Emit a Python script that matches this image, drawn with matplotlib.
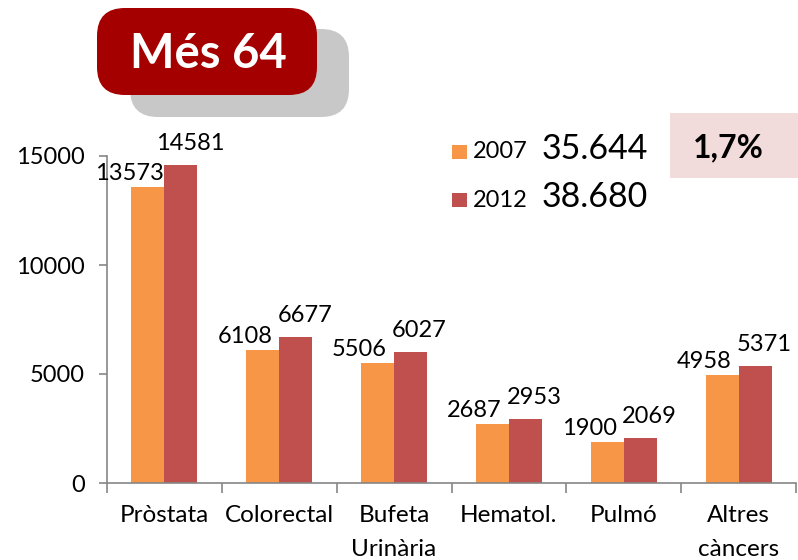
import matplotlib
matplotlib.use('Agg')
import matplotlib.pyplot as plt
import numpy as np
from matplotlib.patches import FancyBboxPatch, Rectangle

plt.rcParams['font.family'] = ['Lato', 'DejaVu Sans']

# Data
categories = ['Pròstata', 'Colorectal', 'Bufeta\nUrinària', 'Hematol.', 'Pulmó', 'Altres\ncàncers']
years = ['2007', '2012']
values_2007 = [13573, 6108, 5506, 2687, 1900, 4958]
values_2012 = [14581, 6677, 6027, 2953, 2069, 5371]
totals = ['35.644', '38.680']
change = '1,7%'
title = 'Més 64'

colors = {'2007': '#F79646', '2012': '#C0504D'}
W, H = 798, 560

fig = plt.figure(figsize=(W / 100, H / 100), dpi=100)


def fx(px):
    return px / W


def fy(py):
    return 1 - py / H


# Main axes (pixel box 107..796 x 156..483)
ax = fig.add_axes([fx(107), fy(483), fx(796) - fx(107), fy(156) - fy(483)])
x = np.arange(len(categories))
bw = 0.288
b1 = ax.bar(x - bw / 2, values_2007, bw, color=colors['2007'], edgecolor='none')
b2 = ax.bar(x + bw / 2, values_2012, bw, color=colors['2012'], edgecolor='none')

for rect, v in zip(b1, values_2007):
    ax.annotate(str(v), (rect.get_x() + rect.get_width() / 2, rect.get_height()),
                xytext=(-18, 3), textcoords='offset pixels', ha='center', va='bottom',
                fontsize=17, color='black')
for rect, v in zip(b2, values_2012):
    ax.annotate(str(v), (rect.get_x() + rect.get_width() / 2, rect.get_height()),
                xytext=(9, 11), textcoords='offset pixels', ha='center', va='bottom',
                fontsize=17, color='black')

ax.set_xlim(-0.5, len(categories) - 0.5)
ax.set_ylim(0, 15000)
ax.set_yticks([0, 5000, 10000, 15000])
ax.set_xticks(x)
ax.set_xticklabels(categories, fontsize=17.5, linespacing=1.75, va='top')
ax.set_xticks(np.arange(len(categories) + 1) - 0.5, minor=True)
ax.tick_params(axis='x', which='major', length=0, pad=16)
ax.tick_params(axis='x', which='minor', length=7, color='#868686', width=1.2)
ax.tick_params(axis='y', length=6, color='#868686', width=1.2, pad=10, labelsize=17)
for s in ['top', 'right']:
    ax.spines[s].set_visible(False)
for s in ['left', 'bottom']:
    ax.spines[s].set_color('#868686')
    ax.spines[s].set_linewidth(1.2)

# Title box with shadow
shadow = FancyBboxPatch((fx(130), fy(117)), fx(349) - fx(130), fy(29) - fy(117),
                        boxstyle='round,pad=0,rounding_size=0.035', transform=fig.transFigure,
                        facecolor='#C8C8C8', edgecolor='none', mutation_aspect=W / H)
fig.add_artist(shadow)
tbox = FancyBboxPatch((fx(97), fy(95)), fx(317) - fx(97), fy(8) - fy(95),
                      boxstyle='round,pad=0,rounding_size=0.035', transform=fig.transFigure,
                      facecolor='#A50000', edgecolor='none', mutation_aspect=W / H)
fig.add_artist(tbox)
fig.text(fx(208), fy(54), title, ha='center', va='center', fontsize=34,
         fontweight='bold', color='white')

# Legend with totals
for i, yr in enumerate(years):
    yc = 152 + i * 48
    fig.add_artist(Rectangle((fx(452), fy(yc + 7)), fx(15), 14 / H,
                             transform=fig.transFigure, facecolor=colors[yr], edgecolor='none'))
    fig.text(fx(473), fy(yc), yr, ha='left', va='center', fontsize=17)
    fig.text(fx(542), fy(yc - 3), totals[i], ha='left', va='center', fontsize=24.5)

# Change box
fig.add_artist(Rectangle((fx(670), fy(178)), fx(798) - fx(670), 65 / H,
                         transform=fig.transFigure, facecolor='#F2DCDB', edgecolor='none'))
fig.text(fx(728), fy(148), change, ha='center', va='center', fontsize=23, fontweight='bold')

fig.savefig('out.png', dpi=100)
